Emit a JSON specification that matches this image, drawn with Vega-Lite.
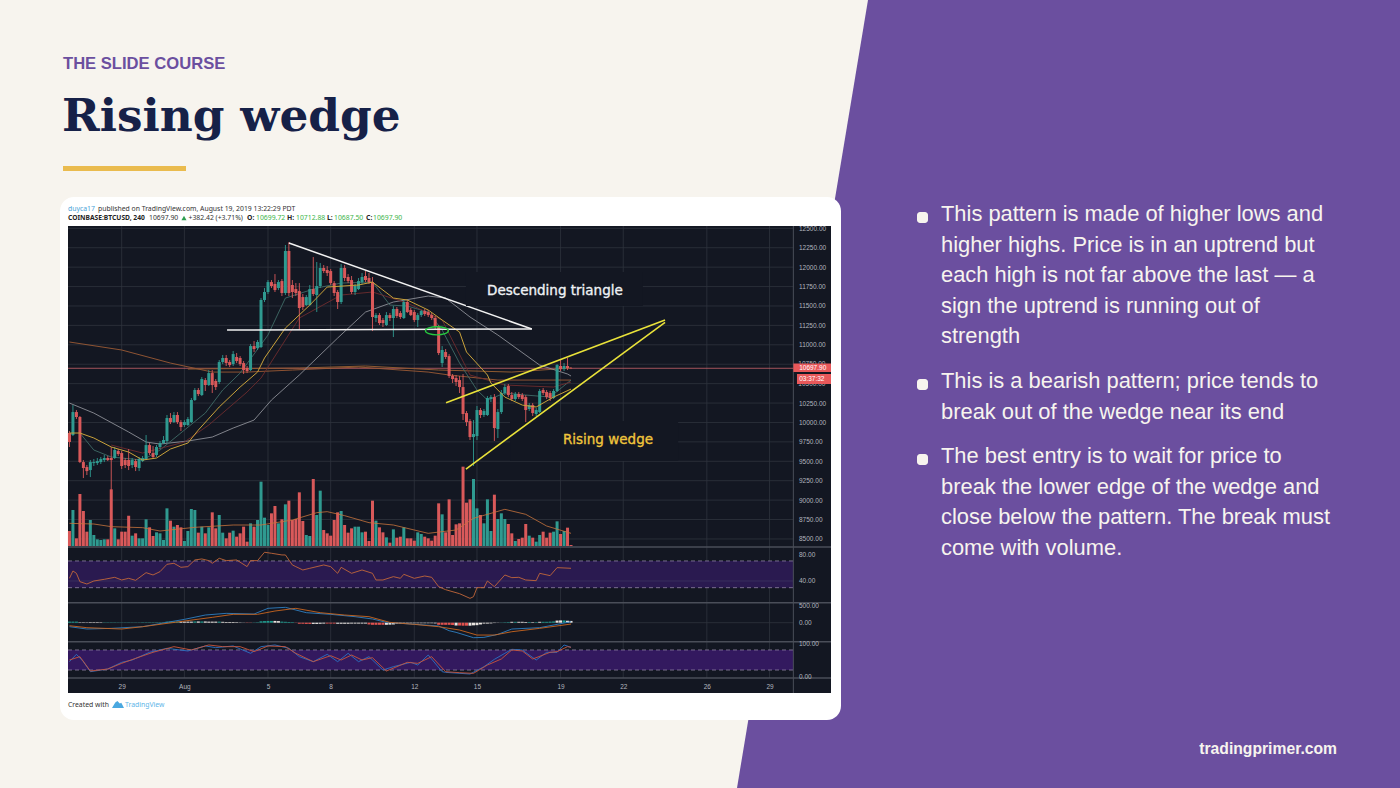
{
"$schema":"https://vega.github.io/schema/vega-lite/v6.json",
"width":1400,"height":788,"padding":0,"autosize":{"type":"none"},
"background":"#f7f4ee",
"config":{"view":{"stroke":null},"axis":{"domain":false,"ticks":false,"grid":false,"title":null,"labelFont":"Liberation Sans","labelFontSize":6.5,"labelColor":"#b2b5be","labelOverlap":false,"labelBound":false,"labelFlush":false}},
"data":{"values":[{}]},
"datasets":{
"candles":[
{"t":"2019-07-26T12:00Z","o":9864,"h":9890,"l":9684,"c":9748,"v":450,"m":30,"f":0},
{"t":"2019-07-26T16:00Z","o":9838,"h":10224,"l":9825,"c":10134,"v":1080,"m":30,"f":0},
{"t":"2019-07-26T20:00Z","o":10134,"h":10160,"l":10044,"c":10070,"v":230,"m":30,"f":0},
{"t":"2019-07-27T00:00Z","o":10070,"h":10083,"l":9477,"c":9490,"v":1560,"m":12,"f":1},
{"t":"2019-07-27T04:00Z","o":9490,"h":9516,"l":9284,"c":9413,"v":1050,"m":12,"f":1},
{"t":"2019-07-27T08:00Z","o":9426,"h":9452,"l":9323,"c":9374,"v":430,"m":10,"f":1},
{"t":"2019-07-27T12:00Z","o":9387,"h":9516,"l":9297,"c":9490,"v":780,"m":15,"f":1},
{"t":"2019-07-27T16:00Z","o":9477,"h":9529,"l":9439,"c":9490,"v":330,"m":15,"f":1},
{"t":"2019-07-27T20:00Z","o":9477,"h":9542,"l":9452,"c":9503,"v":200,"m":15,"f":1},
{"t":"2019-07-28T00:00Z","o":9490,"h":9555,"l":9465,"c":9529,"v":180,"m":12,"f":1},
{"t":"2019-07-28T04:00Z","o":9516,"h":9581,"l":9490,"c":9542,"v":200,"m":8,"f":0},
{"t":"2019-07-28T08:00Z","o":9542,"h":9568,"l":9503,"c":9516,"v":200,"m":8,"f":0},
{"t":"2019-07-28T12:00Z","o":9542,"h":9684,"l":9130,"c":9516,"v":1700,"m":8,"f":0},
{"t":"2019-07-28T16:00Z","o":9542,"h":9684,"l":9529,"c":9645,"v":530,"m":8,"f":0},
{"t":"2019-07-28T20:00Z","o":9632,"h":9658,"l":9568,"c":9593,"v":200,"m":6,"f":0},
{"t":"2019-07-29T00:00Z","o":9606,"h":9632,"l":9400,"c":9439,"v":430,"m":6,"f":0},
{"t":"2019-07-29T04:00Z","o":9516,"h":9542,"l":9413,"c":9452,"v":430,"m":6,"f":0},
{"t":"2019-07-29T08:00Z","o":9516,"h":9658,"l":9387,"c":9439,"v":910,"m":6,"f":0},
{"t":"2019-07-29T12:00Z","o":9452,"h":9542,"l":9413,"c":9516,"v":310,"m":6,"f":0},
{"t":"2019-07-29T16:00Z","o":9503,"h":9529,"l":9374,"c":9426,"v":380,"m":6,"f":0},
{"t":"2019-07-29T20:00Z","o":9413,"h":9555,"l":9374,"c":9529,"v":230,"m":6,"f":0},
{"t":"2019-07-30T00:00Z","o":9503,"h":9568,"l":9490,"c":9542,"v":230,"m":10,"f":0},
{"t":"2019-07-30T04:00Z","o":9529,"h":9838,"l":9516,"c":9709,"v":800,"m":10,"f":0},
{"t":"2019-07-30T08:00Z","o":9709,"h":9735,"l":9581,"c":9606,"v":560,"m":10,"f":0},
{"t":"2019-07-30T12:00Z","o":9606,"h":9696,"l":9529,"c":9555,"v":300,"m":10,"f":0},
{"t":"2019-07-30T16:00Z","o":9581,"h":9709,"l":9555,"c":9684,"v":410,"m":10,"f":0},
{"t":"2019-07-30T20:00Z","o":9684,"h":9761,"l":9658,"c":9735,"v":380,"m":10,"f":0},
{"t":"2019-07-31T00:00Z","o":9735,"h":9825,"l":9722,"c":9774,"v":180,"m":10,"f":0},
{"t":"2019-07-31T04:00Z","o":9761,"h":10096,"l":9735,"c":10057,"v":1130,"m":30,"f":0},
{"t":"2019-07-31T08:00Z","o":10057,"h":10121,"l":9980,"c":10005,"v":760,"m":30,"f":0},
{"t":"2019-07-31T12:00Z","o":10005,"h":10134,"l":9993,"c":10096,"v":580,"m":30,"f":0},
{"t":"2019-07-31T16:00Z","o":10096,"h":10134,"l":9980,"c":10005,"v":630,"m":30,"f":0},
{"t":"2019-07-31T20:00Z","o":10005,"h":10031,"l":9890,"c":9941,"v":560,"m":30,"f":1},
{"t":"2019-08-01T00:00Z","o":9967,"h":10031,"l":9941,"c":10005,"v":150,"m":30,"f":1},
{"t":"2019-08-01T04:00Z","o":9967,"h":10070,"l":9954,"c":10044,"v":450,"m":30,"f":1},
{"t":"2019-08-01T08:00Z","o":10005,"h":10315,"l":9993,"c":10289,"v":1110,"m":30,"f":1},
{"t":"2019-08-01T12:00Z","o":10289,"h":10443,"l":10276,"c":10418,"v":1080,"m":35,"f":0},
{"t":"2019-08-01T16:00Z","o":10418,"h":10443,"l":10340,"c":10366,"v":400,"m":35,"f":1},
{"t":"2019-08-01T20:00Z","o":10353,"h":10585,"l":10340,"c":10559,"v":580,"m":35,"f":0},
{"t":"2019-08-02T00:00Z","o":10546,"h":10572,"l":10405,"c":10482,"v":380,"m":35,"f":1},
{"t":"2019-08-02T04:00Z","o":10482,"h":10675,"l":10469,"c":10636,"v":560,"m":30,"f":1},
{"t":"2019-08-02T08:00Z","o":10636,"h":10675,"l":10379,"c":10482,"v":1010,"m":30,"f":1},
{"t":"2019-08-02T12:00Z","o":10534,"h":10559,"l":10418,"c":10456,"v":530,"m":30,"f":1},
{"t":"2019-08-02T16:00Z","o":10521,"h":10804,"l":10495,"c":10778,"v":930,"m":30,"f":0},
{"t":"2019-08-02T20:00Z","o":10778,"h":10868,"l":10752,"c":10830,"v":400,"m":25,"f":1},
{"t":"2019-08-03T00:00Z","o":10830,"h":10868,"l":10727,"c":10765,"v":230,"m":20,"f":1},
{"t":"2019-08-03T04:00Z","o":10778,"h":10804,"l":10714,"c":10739,"v":400,"m":20,"f":1},
{"t":"2019-08-03T08:00Z","o":10752,"h":10920,"l":10727,"c":10881,"v":460,"m":20,"f":1},
{"t":"2019-08-03T12:00Z","o":10843,"h":10894,"l":10765,"c":10791,"v":280,"m":15,"f":1},
{"t":"2019-08-03T16:00Z","o":10830,"h":10855,"l":10727,"c":10752,"v":380,"m":8,"f":1},
{"t":"2019-08-03T20:00Z","o":10765,"h":10791,"l":10624,"c":10675,"v":580,"m":4,"f":1},
{"t":"2019-08-04T00:00Z","o":10701,"h":10727,"l":10636,"c":10662,"v":130,"m":-8,"f":0},
{"t":"2019-08-04T04:00Z","o":10675,"h":11010,"l":10662,"c":10984,"v":680,"m":-6,"f":0},
{"t":"2019-08-04T08:00Z","o":10984,"h":11048,"l":10907,"c":10946,"v":580,"m":5,"f":0},
{"t":"2019-08-04T12:00Z","o":10958,"h":11061,"l":10933,"c":11036,"v":780,"m":10,"f":0},
{"t":"2019-08-04T16:00Z","o":10971,"h":11602,"l":10958,"c":11577,"v":1930,"m":40,"f":0},
{"t":"2019-08-04T20:00Z","o":11577,"h":11731,"l":11551,"c":11680,"v":850,"m":45,"f":0},
{"t":"2019-08-05T00:00Z","o":11680,"h":11834,"l":11654,"c":11808,"v":630,"m":50,"f":0},
{"t":"2019-08-05T04:00Z","o":11808,"h":11834,"l":11731,"c":11757,"v":980,"m":50,"f":0},
{"t":"2019-08-05T08:00Z","o":11783,"h":11911,"l":11680,"c":11705,"v":1200,"m":50,"f":1},
{"t":"2019-08-05T12:00Z","o":11731,"h":11834,"l":11705,"c":11808,"v":680,"m":45,"f":1},
{"t":"2019-08-05T16:00Z","o":11821,"h":11847,"l":11628,"c":11667,"v":800,"m":30,"f":0},
{"t":"2019-08-05T20:00Z","o":11667,"h":12285,"l":11641,"c":12208,"v":1250,"m":25,"f":0},
{"t":"2019-08-06T00:00Z","o":12208,"h":12323,"l":11628,"c":11667,"v":1360,"m":20,"f":0},
{"t":"2019-08-06T04:00Z","o":11770,"h":11834,"l":11602,"c":11680,"v":780,"m":15,"f":0},
{"t":"2019-08-06T08:00Z","o":11718,"h":11795,"l":11628,"c":11667,"v":810,"m":-5,"f":0},
{"t":"2019-08-06T12:00Z","o":11692,"h":11795,"l":11190,"c":11474,"v":1610,"m":-30,"f":0},
{"t":"2019-08-06T16:00Z","o":11615,"h":11654,"l":11448,"c":11487,"v":750,"m":-30,"f":0},
{"t":"2019-08-06T20:00Z","o":11512,"h":11641,"l":11499,"c":11615,"v":330,"m":-35,"f":0},
{"t":"2019-08-07T00:00Z","o":11512,"h":11770,"l":11499,"c":11718,"v":300,"m":-35,"f":0},
{"t":"2019-08-07T04:00Z","o":11718,"h":12130,"l":11628,"c":11654,"v":2010,"m":-35,"f":1},
{"t":"2019-08-07T08:00Z","o":11641,"h":12066,"l":11422,"c":11757,"v":930,"m":-35,"f":1},
{"t":"2019-08-07T12:00Z","o":11757,"h":12053,"l":11731,"c":11989,"v":1660,"m":-30,"f":1},
{"t":"2019-08-07T16:00Z","o":11989,"h":12027,"l":11924,"c":11950,"v":480,"m":-25,"f":1},
{"t":"2019-08-07T20:00Z","o":11963,"h":12014,"l":11886,"c":11924,"v":380,"m":-25,"f":0},
{"t":"2019-08-08T00:00Z","o":11950,"h":11976,"l":11770,"c":11795,"v":310,"m":-25,"f":0},
{"t":"2019-08-08T04:00Z","o":11795,"h":11821,"l":11628,"c":11667,"v":780,"m":-25,"f":0},
{"t":"2019-08-08T08:00Z","o":11680,"h":11705,"l":11461,"c":11551,"v":1010,"m":-30,"f":1},
{"t":"2019-08-08T12:00Z","o":11551,"h":12040,"l":11525,"c":11989,"v":1050,"m":-30,"f":1},
{"t":"2019-08-08T16:00Z","o":11989,"h":12027,"l":11821,"c":11860,"v":630,"m":-30,"f":1},
{"t":"2019-08-08T20:00Z","o":11873,"h":11911,"l":11795,"c":11821,"v":400,"m":-30,"f":1},
{"t":"2019-08-09T00:00Z","o":11834,"h":11886,"l":11654,"c":11680,"v":530,"m":-25,"f":1},
{"t":"2019-08-09T04:00Z","o":11680,"h":11783,"l":11641,"c":11757,"v":580,"m":-25,"f":1},
{"t":"2019-08-09T08:00Z","o":11718,"h":11860,"l":11705,"c":11821,"v":580,"m":-25,"f":1},
{"t":"2019-08-09T12:00Z","o":11808,"h":11924,"l":11783,"c":11873,"v":410,"m":-25,"f":1},
{"t":"2019-08-09T16:00Z","o":11886,"h":11950,"l":11808,"c":11834,"v":430,"m":-25,"f":1},
{"t":"2019-08-09T20:00Z","o":11860,"h":11924,"l":11783,"c":11808,"v":150,"m":-50,"f":0},
{"t":"2019-08-10T00:00Z","o":11808,"h":11873,"l":11177,"c":11358,"v":1360,"m":-60,"f":0},
{"t":"2019-08-10T04:00Z","o":11345,"h":11409,"l":11293,"c":11383,"v":760,"m":-60,"f":0},
{"t":"2019-08-10T08:00Z","o":11383,"h":11409,"l":11255,"c":11280,"v":560,"m":-60,"f":0},
{"t":"2019-08-10T12:00Z","o":11319,"h":11345,"l":11229,"c":11280,"v":410,"m":-60,"f":0},
{"t":"2019-08-10T16:00Z","o":11255,"h":11422,"l":11242,"c":11383,"v":260,"m":-60,"f":1},
{"t":"2019-08-10T20:00Z","o":11383,"h":11409,"l":11306,"c":11345,"v":100,"m":-55,"f":1},
{"t":"2019-08-11T00:00Z","o":11345,"h":11499,"l":11100,"c":11461,"v":500,"m":-50,"f":1},
{"t":"2019-08-11T04:00Z","o":11461,"h":11487,"l":11345,"c":11371,"v":250,"m":-30,"f":1},
{"t":"2019-08-11T08:00Z","o":11409,"h":11435,"l":11332,"c":11358,"v":280,"m":-30,"f":1},
{"t":"2019-08-11T12:00Z","o":11345,"h":11577,"l":11332,"c":11551,"v":560,"m":-25,"f":1},
{"t":"2019-08-11T16:00Z","o":11551,"h":11577,"l":11409,"c":11422,"v":230,"m":-20,"f":1},
{"t":"2019-08-11T20:00Z","o":11448,"h":11474,"l":11371,"c":11383,"v":230,"m":-15,"f":1},
{"t":"2019-08-12T00:00Z","o":11422,"h":11448,"l":11293,"c":11319,"v":160,"m":-15,"f":1},
{"t":"2019-08-12T04:00Z","o":11319,"h":11409,"l":11229,"c":11383,"v":410,"m":-15,"f":1},
{"t":"2019-08-12T08:00Z","o":11383,"h":11448,"l":11358,"c":11435,"v":360,"m":-15,"f":1},
{"t":"2019-08-12T12:00Z","o":11435,"h":11461,"l":11371,"c":11396,"v":280,"m":-15,"f":1},
{"t":"2019-08-12T16:00Z","o":11422,"h":11448,"l":11358,"c":11383,"v":230,"m":-15,"f":1},
{"t":"2019-08-12T20:00Z","o":11383,"h":11409,"l":11319,"c":11345,"v":160,"m":-15,"f":1},
{"t":"2019-08-13T00:00Z","o":11345,"h":11371,"l":11203,"c":11229,"v":310,"m":-20,"f":1},
{"t":"2019-08-13T04:00Z","o":11229,"h":11255,"l":10868,"c":10894,"v":1280,"m":-60,"f":0},
{"t":"2019-08-13T08:00Z","o":10765,"h":10984,"l":10714,"c":10933,"v":950,"m":-60,"f":0},
{"t":"2019-08-13T12:00Z","o":10907,"h":10946,"l":10817,"c":10843,"v":410,"m":-60,"f":0},
{"t":"2019-08-13T16:00Z","o":10855,"h":10881,"l":10572,"c":10598,"v":1400,"m":-60,"f":0},
{"t":"2019-08-13T20:00Z","o":10598,"h":10624,"l":10508,"c":10559,"v":330,"m":-65,"f":0},
{"t":"2019-08-14T00:00Z","o":10572,"h":10611,"l":10469,"c":10521,"v":650,"m":-80,"f":1},
{"t":"2019-08-14T04:00Z","o":10546,"h":10598,"l":10379,"c":10456,"v":680,"m":-80,"f":0},
{"t":"2019-08-14T08:00Z","o":10456,"h":10624,"l":10031,"c":10109,"v":2380,"m":-85,"f":0},
{"t":"2019-08-14T12:00Z","o":10121,"h":10147,"l":9954,"c":10005,"v":1300,"m":-85,"f":0},
{"t":"2019-08-14T16:00Z","o":10018,"h":10044,"l":9774,"c":9812,"v":1400,"m":-85,"f":1},
{"t":"2019-08-14T20:00Z","o":9812,"h":10031,"l":9439,"c":9851,"v":2010,"m":-75,"f":1},
{"t":"2019-08-15T00:00Z","o":9825,"h":10212,"l":9774,"c":10160,"v":1130,"m":-70,"f":1},
{"t":"2019-08-15T04:00Z","o":10160,"h":10186,"l":10057,"c":10096,"v":930,"m":-50,"f":1},
{"t":"2019-08-15T08:00Z","o":10096,"h":10173,"l":10070,"c":10147,"v":680,"m":-25,"f":1},
{"t":"2019-08-15T12:00Z","o":10096,"h":10340,"l":10083,"c":10315,"v":1400,"m":-25,"f":1},
{"t":"2019-08-15T16:00Z","o":10302,"h":10353,"l":10263,"c":10327,"v":450,"m":-20,"f":1},
{"t":"2019-08-15T20:00Z","o":10327,"h":10366,"l":9761,"c":9928,"v":1540,"m":-10,"f":1},
{"t":"2019-08-16T00:00Z","o":9915,"h":10173,"l":9800,"c":10134,"v":810,"m":-5,"f":1},
{"t":"2019-08-16T04:00Z","o":10134,"h":10418,"l":10109,"c":10379,"v":980,"m":5,"f":0},
{"t":"2019-08-16T08:00Z","o":10379,"h":10495,"l":10353,"c":10456,"v":810,"m":10,"f":0},
{"t":"2019-08-16T12:00Z","o":10469,"h":10495,"l":10327,"c":10353,"v":660,"m":15,"f":0},
{"t":"2019-08-16T16:00Z","o":10353,"h":10392,"l":10276,"c":10302,"v":380,"m":25,"f":1},
{"t":"2019-08-16T20:00Z","o":10302,"h":10392,"l":10276,"c":10366,"v":150,"m":25,"f":0},
{"t":"2019-08-17T00:00Z","o":10366,"h":10392,"l":10302,"c":10327,"v":210,"m":25,"f":1},
{"t":"2019-08-17T04:00Z","o":10353,"h":10379,"l":10276,"c":10302,"v":250,"m":25,"f":1},
{"t":"2019-08-17T08:00Z","o":10327,"h":10353,"l":10005,"c":10160,"v":660,"m":20,"f":1},
{"t":"2019-08-17T12:00Z","o":10173,"h":10250,"l":10147,"c":10224,"v":310,"m":20,"f":0},
{"t":"2019-08-17T16:00Z","o":10224,"h":10250,"l":10083,"c":10121,"v":250,"m":15,"f":1},
{"t":"2019-08-17T20:00Z","o":10109,"h":10186,"l":10083,"c":10160,"v":130,"m":15,"f":0},
{"t":"2019-08-18T00:00Z","o":10134,"h":10430,"l":10121,"c":10405,"v":330,"m":25,"f":1},
{"t":"2019-08-18T04:00Z","o":10418,"h":10443,"l":10353,"c":10379,"v":430,"m":25,"f":0},
{"t":"2019-08-18T08:00Z","o":10392,"h":10418,"l":10302,"c":10327,"v":250,"m":25,"f":0},
{"t":"2019-08-18T12:00Z","o":10379,"h":10405,"l":10276,"c":10315,"v":400,"m":30,"f":0},
{"t":"2019-08-18T16:00Z","o":10315,"h":10430,"l":10302,"c":10405,"v":430,"m":35,"f":0},
{"t":"2019-08-18T20:00Z","o":10405,"h":10752,"l":10392,"c":10739,"v":740,"m":60,"f":1},
{"t":"2019-08-19T00:00Z","o":10727,"h":10804,"l":10662,"c":10688,"v":360,"m":65,"f":1},
{"t":"2019-08-19T04:00Z","o":10688,"h":10765,"l":10662,"c":10727,"v":450,"m":65,"f":0},
{"t":"2019-08-19T08:00Z","o":10727,"h":10830,"l":10675,"c":10701,"v":550,"m":55,"f":1},
{"t":"2019-08-19T12:00Z","o":10699.72,"h":10712.88,"l":10687.5,"c":10697.9,"v":30,"m":50,"f":1}
],
"maOrange":[{"t":"2019-07-26T12:00Z","p":9864},{"t":"2019-07-27T00:00Z","p":9864},{"t":"2019-07-27T16:00Z","p":9800},{"t":"2019-07-28T12:00Z","p":9684},{"t":"2019-07-29T08:00Z","p":9619},{"t":"2019-07-30T00:00Z","p":9516},{"t":"2019-07-30T16:00Z","p":9542},{"t":"2019-07-31T08:00Z","p":9658},{"t":"2019-08-01T04:00Z","p":9735},{"t":"2019-08-01T16:00Z","p":9902},{"t":"2019-08-02T16:00Z","p":10199},{"t":"2019-08-03T16:00Z","p":10456},{"t":"2019-08-04T12:00Z","p":10649},{"t":"2019-08-04T20:00Z","p":10830},{"t":"2019-08-05T20:00Z","p":11216},{"t":"2019-08-07T00:00Z","p":11512},{"t":"2019-08-07T20:00Z","p":11744},{"t":"2019-08-09T08:00Z","p":11770},{"t":"2019-08-10T00:00Z","p":11808},{"t":"2019-08-11T00:00Z","p":11602},{"t":"2019-08-11T16:00Z","p":11577},{"t":"2019-08-12T16:00Z","p":11448},{"t":"2019-08-13T08:00Z","p":11319},{"t":"2019-08-14T04:00Z","p":11164},{"t":"2019-08-14T12:00Z","p":10907},{"t":"2019-08-15T12:00Z","p":10611},{"t":"2019-08-15T16:00Z","p":10508},{"t":"2019-08-16T08:00Z","p":10327},{"t":"2019-08-17T04:00Z","p":10224},{"t":"2019-08-17T20:00Z","p":10199},{"t":"2019-08-18T16:00Z","p":10327},{"t":"2019-08-19T12:00Z","p":10430}],
"maGrey":[{"t":"2019-07-26T12:00Z","p":10250},{"t":"2019-07-27T16:00Z","p":10121},{"t":"2019-07-29T08:00Z","p":9877},{"t":"2019-07-30T04:00Z","p":9748},{"t":"2019-07-30T20:00Z","p":9722},{"t":"2019-08-01T04:00Z","p":9761},{"t":"2019-08-02T08:00Z","p":9812},{"t":"2019-08-03T08:00Z","p":9928},{"t":"2019-08-04T08:00Z","p":10031},{"t":"2019-08-05T04:00Z","p":10289},{"t":"2019-08-06T12:00Z","p":10611},{"t":"2019-08-08T08:00Z","p":11087},{"t":"2019-08-09T16:00Z","p":11422},{"t":"2019-08-11T00:00Z","p":11551},{"t":"2019-08-12T16:00Z","p":11628},{"t":"2019-08-13T12:00Z","p":11602},{"t":"2019-08-14T16:00Z","p":11358},{"t":"2019-08-16T00:00Z","p":11126},{"t":"2019-08-18T00:00Z","p":10739},{"t":"2019-08-19T08:00Z","p":10624},{"t":"2019-08-19T12:00Z","p":10598}],
"maTeal":[{"t":"2019-07-27T00:00Z","p":9864},{"t":"2019-07-27T16:00Z","p":9645},{"t":"2019-07-28T12:00Z","p":9555},{"t":"2019-07-30T00:00Z","p":9516},{"t":"2019-07-30T20:00Z","p":9645},{"t":"2019-08-01T00:00Z","p":9902},{"t":"2019-08-02T00:00Z","p":10121},{"t":"2019-08-02T20:00Z","p":10418},{"t":"2019-08-03T16:00Z","p":10636},{"t":"2019-08-05T00:00Z","p":11126},{"t":"2019-08-05T20:00Z","p":11602},{"t":"2019-08-07T08:00Z","p":11731},{"t":"2019-08-08T12:00Z","p":11795},{"t":"2019-08-10T00:00Z","p":11808},{"t":"2019-08-10T20:00Z","p":11512},{"t":"2019-08-11T16:00Z","p":11499},{"t":"2019-08-12T16:00Z","p":11422},{"t":"2019-08-13T08:00Z","p":11190},{"t":"2019-08-14T04:00Z","p":10765},{"t":"2019-08-15T00:00Z","p":10418},{"t":"2019-08-15T12:00Z","p":10289},{"t":"2019-08-16T08:00Z","p":10379},{"t":"2019-08-17T08:00Z","p":10353},{"t":"2019-08-18T12:00Z","p":10327},{"t":"2019-08-19T12:00Z","p":10546}],
"maRed":[{"t":"2019-07-28T12:00Z","p":9709},{"t":"2019-07-30T00:00Z","p":9606},{"t":"2019-08-01T00:00Z","p":9748},{"t":"2019-08-02T04:00Z","p":9967},{"t":"2019-08-04T00:00Z","p":10392},{"t":"2019-08-04T16:00Z","p":10572},{"t":"2019-08-06T12:00Z","p":11345},{"t":"2019-08-08T12:00Z","p":11641},{"t":"2019-08-10T00:00Z","p":11680},{"t":"2019-08-11T16:00Z","p":11538},{"t":"2019-08-13T08:00Z","p":11319},{"t":"2019-08-14T16:00Z","p":10611},{"t":"2019-08-16T08:00Z","p":10482},{"t":"2019-08-18T16:00Z","p":10456},{"t":"2019-08-19T12:00Z","p":10521}],
"maBrown":[{"t":"2019-07-26T12:00Z","p":11036},{"t":"2019-07-29T00:00Z","p":10933},{"t":"2019-07-31T08:00Z","p":10765},{"t":"2019-08-02T08:00Z","p":10649},{"t":"2019-08-04T00:00Z","p":10649},{"t":"2019-08-06T04:00Z","p":10675},{"t":"2019-08-09T08:00Z","p":10714},{"t":"2019-08-12T16:00Z","p":10649},{"t":"2019-08-13T16:00Z","p":10611},{"t":"2019-08-16T00:00Z","p":10546},{"t":"2019-08-19T12:00Z","p":10546}],
"maFlat":[{"t":"2019-08-01T04:00Z","p":10688},{"t":"2019-08-06T12:00Z","p":10701},{"t":"2019-08-09T16:00Z","p":10727},{"t":"2019-08-13T04:00Z","p":10675},{"t":"2019-08-16T16:00Z","p":10649},{"t":"2019-08-19T12:00Z","p":10701}],
"volMa":[{"t":"2019-07-26T12:00Z","v":680},{"t":"2019-07-27T16:00Z","v":660},{"t":"2019-07-28T12:00Z","v":580},{"t":"2019-07-30T00:00Z","v":550},{"t":"2019-07-30T20:00Z","v":450},{"t":"2019-08-01T12:00Z","v":560},{"t":"2019-08-03T08:00Z","v":630},{"t":"2019-08-04T16:00Z","v":630},{"t":"2019-08-06T04:00Z","v":780},{"t":"2019-08-07T08:00Z","v":1000},{"t":"2019-08-07T20:00Z","v":1030},{"t":"2019-08-08T16:00Z","v":910},{"t":"2019-08-09T20:00Z","v":700},{"t":"2019-08-11T00:00Z","v":630},{"t":"2019-08-12T16:00Z","v":380},{"t":"2019-08-14T00:00Z","v":480},{"t":"2019-08-14T20:00Z","v":830},{"t":"2019-08-16T08:00Z","v":1100},{"t":"2019-08-17T08:00Z","v":950},{"t":"2019-08-18T08:00Z","v":600},{"t":"2019-08-19T12:00Z","v":380}],
"rsi":[{"t":"2019-07-26T12:00Z","v":44},{"t":"2019-07-26T16:00Z","v":55},{"t":"2019-07-26T20:00Z","v":51.5},{"t":"2019-07-27T00:00Z","v":39},{"t":"2019-07-27T08:00Z","v":35.5},{"t":"2019-07-27T16:00Z","v":40},{"t":"2019-07-28T04:00Z","v":42.5},{"t":"2019-07-28T16:00Z","v":45.5},{"t":"2019-07-29T00:00Z","v":41.5},{"t":"2019-07-29T08:00Z","v":44},{"t":"2019-07-29T16:00Z","v":41},{"t":"2019-07-30T04:00Z","v":52.5},{"t":"2019-07-30T12:00Z","v":49},{"t":"2019-07-30T20:00Z","v":54},{"t":"2019-07-31T04:00Z","v":65},{"t":"2019-07-31T12:00Z","v":66.5},{"t":"2019-07-31T20:00Z","v":60.5},{"t":"2019-08-01T04:00Z","v":61.5},{"t":"2019-08-01T12:00Z","v":71.5},{"t":"2019-08-01T20:00Z","v":73},{"t":"2019-08-02T04:00Z","v":70.5},{"t":"2019-08-02T08:00Z","v":66.5},{"t":"2019-08-02T16:00Z","v":74},{"t":"2019-08-03T00:00Z","v":70.5},{"t":"2019-08-03T12:00Z","v":71.5},{"t":"2019-08-04T00:00Z","v":61.5},{"t":"2019-08-04T04:00Z","v":70.5},{"t":"2019-08-04T12:00Z","v":70.5},{"t":"2019-08-04T20:00Z","v":83},{"t":"2019-08-05T04:00Z","v":81.5},{"t":"2019-08-05T16:00Z","v":79},{"t":"2019-08-05T20:00Z","v":79},{"t":"2019-08-06T04:00Z","v":64},{"t":"2019-08-06T08:00Z","v":61.5},{"t":"2019-08-06T16:00Z","v":56.5},{"t":"2019-08-07T00:00Z","v":59},{"t":"2019-08-07T16:00Z","v":64},{"t":"2019-08-08T00:00Z","v":61.5},{"t":"2019-08-08T08:00Z","v":51.5},{"t":"2019-08-08T12:00Z","v":60.5},{"t":"2019-08-09T00:00Z","v":51.5},{"t":"2019-08-09T12:00Z","v":56.5},{"t":"2019-08-10T00:00Z","v":51.5},{"t":"2019-08-10T04:00Z","v":41.5},{"t":"2019-08-10T12:00Z","v":41.5},{"t":"2019-08-11T00:00Z","v":46.5},{"t":"2019-08-11T08:00Z","v":44},{"t":"2019-08-11T12:00Z","v":50},{"t":"2019-08-12T00:00Z","v":44},{"t":"2019-08-12T12:00Z","v":47.5},{"t":"2019-08-12T20:00Z","v":45.5},{"t":"2019-08-13T04:00Z","v":31.5},{"t":"2019-08-13T12:00Z","v":27},{"t":"2019-08-14T04:00Z","v":21},{"t":"2019-08-14T16:00Z","v":14},{"t":"2019-08-14T20:00Z","v":16.5},{"t":"2019-08-15T00:00Z","v":30},{"t":"2019-08-15T08:00Z","v":30},{"t":"2019-08-15T12:00Z","v":40},{"t":"2019-08-15T20:00Z","v":31.5},{"t":"2019-08-16T08:00Z","v":49},{"t":"2019-08-16T16:00Z","v":45},{"t":"2019-08-17T00:00Z","v":45.5},{"t":"2019-08-17T08:00Z","v":41.5},{"t":"2019-08-17T20:00Z","v":40.5},{"t":"2019-08-18T00:00Z","v":51.5},{"t":"2019-08-18T12:00Z","v":48},{"t":"2019-08-18T20:00Z","v":60},{"t":"2019-08-19T12:00Z","v":59}],
"macd":[{"t":"2019-07-26T12:00Z","v":-113},{"t":"2019-07-27T08:00Z","v":-179},{"t":"2019-07-28T12:00Z","v":-160},{"t":"2019-07-30T00:00Z","v":-113},{"t":"2019-07-31T04:00Z","v":9},{"t":"2019-08-01T00:00Z","v":94},{"t":"2019-08-02T00:00Z","v":217},{"t":"2019-08-03T00:00Z","v":264},{"t":"2019-08-04T08:00Z","v":245},{"t":"2019-08-05T00:00Z","v":406},{"t":"2019-08-05T20:00Z","v":434},{"t":"2019-08-06T20:00Z","v":283},{"t":"2019-08-08T00:00Z","v":236},{"t":"2019-08-09T04:00Z","v":170},{"t":"2019-08-10T00:00Z","v":104},{"t":"2019-08-10T16:00Z","v":9},{"t":"2019-08-11T20:00Z","v":-38},{"t":"2019-08-13T04:00Z","v":-94},{"t":"2019-08-13T16:00Z","v":-226},{"t":"2019-08-14T00:00Z","v":-273},{"t":"2019-08-14T20:00Z","v":-424},{"t":"2019-08-15T08:00Z","v":-415},{"t":"2019-08-16T00:00Z","v":-330},{"t":"2019-08-16T16:00Z","v":-179},{"t":"2019-08-18T00:00Z","v":-141},{"t":"2019-08-18T20:00Z","v":-47},{"t":"2019-08-19T12:00Z","v":28}],
"signal":[{"t":"2019-07-26T12:00Z","v":-85},{"t":"2019-07-27T08:00Z","v":-141},{"t":"2019-07-29T00:00Z","v":-179},{"t":"2019-07-30T00:00Z","v":-113},{"t":"2019-07-31T04:00Z","v":-19},{"t":"2019-08-01T00:00Z","v":47},{"t":"2019-08-02T08:00Z","v":151},{"t":"2019-08-03T08:00Z","v":236},{"t":"2019-08-04T12:00Z","v":236},{"t":"2019-08-05T08:00Z","v":330},{"t":"2019-08-06T08:00Z","v":406},{"t":"2019-08-07T12:00Z","v":283},{"t":"2019-08-08T16:00Z","v":217},{"t":"2019-08-09T20:00Z","v":170},{"t":"2019-08-10T20:00Z","v":9},{"t":"2019-08-12T00:00Z","v":-47},{"t":"2019-08-13T04:00Z","v":-113},{"t":"2019-08-14T04:00Z","v":-207},{"t":"2019-08-15T00:00Z","v":-349},{"t":"2019-08-15T20:00Z","v":-349},{"t":"2019-08-16T16:00Z","v":-255},{"t":"2019-08-18T00:00Z","v":-160},{"t":"2019-08-19T12:00Z","v":-38}],
"stochK":[{"t":"2019-07-26T12:00Z","v":45},{"t":"2019-07-26T20:00Z","v":67},{"t":"2019-07-27T04:00Z","v":45},{"t":"2019-07-27T12:00Z","v":15},{"t":"2019-07-28T08:00Z","v":23},{"t":"2019-07-29T00:00Z","v":43},{"t":"2019-07-29T12:00Z","v":50},{"t":"2019-07-30T08:00Z","v":73},{"t":"2019-07-31T04:00Z","v":85},{"t":"2019-08-01T04:00Z","v":77},{"t":"2019-08-02T00:00Z","v":92},{"t":"2019-08-02T12:00Z","v":87},{"t":"2019-08-03T08:00Z","v":92},{"t":"2019-08-04T04:00Z","v":70},{"t":"2019-08-04T16:00Z","v":90},{"t":"2019-08-05T08:00Z","v":95},{"t":"2019-08-06T00:00Z","v":85},{"t":"2019-08-06T12:00Z","v":60},{"t":"2019-08-07T04:00Z","v":45},{"t":"2019-08-07T20:00Z","v":67},{"t":"2019-08-08T08:00Z","v":45},{"t":"2019-08-08T20:00Z","v":70},{"t":"2019-08-09T08:00Z","v":45},{"t":"2019-08-09T20:00Z","v":60},{"t":"2019-08-10T12:00Z","v":20},{"t":"2019-08-11T00:00Z","v":30},{"t":"2019-08-11T20:00Z","v":43},{"t":"2019-08-12T04:00Z","v":35},{"t":"2019-08-12T16:00Z","v":65},{"t":"2019-08-13T08:00Z","v":15},{"t":"2019-08-13T12:00Z","v":13},{"t":"2019-08-14T16:00Z","v":8},{"t":"2019-08-15T08:00Z","v":30},{"t":"2019-08-15T20:00Z","v":52},{"t":"2019-08-16T08:00Z","v":70},{"t":"2019-08-16T16:00Z","v":82},{"t":"2019-08-17T04:00Z","v":80},{"t":"2019-08-17T20:00Z","v":50},{"t":"2019-08-18T08:00Z","v":73},{"t":"2019-08-18T20:00Z","v":73},{"t":"2019-08-19T04:00Z","v":95},{"t":"2019-08-19T12:00Z","v":88}],
"stochD":[{"t":"2019-07-26T12:00Z","v":50},{"t":"2019-07-27T00:00Z","v":60},{"t":"2019-07-27T12:00Z","v":17},{"t":"2019-07-28T08:00Z","v":23},{"t":"2019-07-29T00:00Z","v":40},{"t":"2019-07-29T16:00Z","v":55},{"t":"2019-07-30T12:00Z","v":73},{"t":"2019-07-31T12:00Z","v":90},{"t":"2019-08-01T08:00Z","v":80},{"t":"2019-08-02T04:00Z","v":95},{"t":"2019-08-02T20:00Z","v":90},{"t":"2019-08-03T16:00Z","v":90},{"t":"2019-08-04T08:00Z","v":75},{"t":"2019-08-05T00:00Z","v":92},{"t":"2019-08-05T20:00Z","v":90},{"t":"2019-08-06T08:00Z","v":70},{"t":"2019-08-07T04:00Z","v":45},{"t":"2019-08-08T00:00Z","v":63},{"t":"2019-08-08T12:00Z","v":50},{"t":"2019-08-09T00:00Z","v":65},{"t":"2019-08-09T12:00Z","v":50},{"t":"2019-08-10T00:00Z","v":57},{"t":"2019-08-10T16:00Z","v":17},{"t":"2019-08-11T16:00Z","v":43},{"t":"2019-08-12T04:00Z","v":40},{"t":"2019-08-12T20:00Z","v":60},{"t":"2019-08-13T12:00Z","v":15},{"t":"2019-08-14T04:00Z","v":12},{"t":"2019-08-14T20:00Z","v":10},{"t":"2019-08-15T12:00Z","v":35},{"t":"2019-08-16T04:00Z","v":53},{"t":"2019-08-16T16:00Z","v":80},{"t":"2019-08-17T04:00Z","v":77},{"t":"2019-08-17T16:00Z","v":53},{"t":"2019-08-18T12:00Z","v":73},{"t":"2019-08-18T20:00Z","v":75},{"t":"2019-08-19T08:00Z","v":90},{"t":"2019-08-19T12:00Z","v":88}],
"descending":[{"t":"2019-08-06T00:00Z","p":12311},{"t":"2019-08-17T15:00Z","p":11203}],
"support":[{"t":"2019-08-03T01:00Z","p":11190},{"t":"2019-08-17T15:00Z","p":11203}],
"wedgeUpper":[{"t":"2019-08-13T12:30Z","p":10254},{"t":"2019-08-24T00:00Z","p":11319}],
"wedgeLower":[{"t":"2019-08-14T11:20Z","p":9400},{"t":"2019-08-24T00:00Z","p":11289}],
"xTicks":[{"t":"2019-07-29T00:00Z","p":12530},{"t":"2019-08-01T00:00Z","p":12530},{"t":"2019-08-05T00:00Z","p":12530},{"t":"2019-08-08T00:00Z","p":12530},{"t":"2019-08-12T00:00Z","p":12530},{"t":"2019-08-15T00:00Z","p":12530},{"t":"2019-08-19T00:00Z","p":12530},{"t":"2019-08-22T00:00Z","p":12530},{"t":"2019-08-26T00:00Z","p":12530},{"t":"2019-08-29T00:00Z","p":12530}],
"priceTicks":[{"t":"2019-07-26T10:20Z","p":8500},{"t":"2019-07-26T10:20Z","p":8750},{"t":"2019-07-26T10:20Z","p":9000},{"t":"2019-07-26T10:20Z","p":9250},{"t":"2019-07-26T10:20Z","p":9500},{"t":"2019-07-26T10:20Z","p":9750},{"t":"2019-07-26T10:20Z","p":10000},{"t":"2019-07-26T10:20Z","p":10250},{"t":"2019-07-26T10:20Z","p":10500},{"t":"2019-07-26T10:20Z","p":10750},{"t":"2019-07-26T10:20Z","p":11000},{"t":"2019-07-26T10:20Z","p":11250},{"t":"2019-07-26T10:20Z","p":11500},{"t":"2019-07-26T10:20Z","p":11750},{"t":"2019-07-26T10:20Z","p":12000},{"t":"2019-07-26T10:20Z","p":12250},{"t":"2019-07-26T10:20Z","p":12500}]
},
"resolve":{"scale":{"x":"independent","y":"independent"},"axis":{"x":"independent","y":"independent"}},
"layer":[
{"layer":[
{"data":{"values":[{"e":868,"h":0},{"e":737,"h":788}]},"mark":{"type":"area","orient":"horizontal","color":"#6b4f9f"},"encoding":{"x":{"field":"e","type":"quantitative","scale":{"domain":[0,1400],"range":[0,1400],"nice":false},"axis":null},"x2":{"datum":1400},"y":{"field":"h","type":"quantitative","scale":{"domain":[0,788],"range":[0,788],"nice":false},"axis":null}}},
{"mark":{"type":"rect","color":"#ffffff","cornerRadius":14},"encoding":{"x":{"datum":60,"axis":null},"x2":{"datum":841},"y":{"datum":197,"axis":null},"y2":{"datum":720}}},
{"mark":{"type":"rect","color":"#eabb4e"},"encoding":{"x":{"datum":63,"axis":null},"x2":{"datum":186},"y":{"datum":166,"axis":null},"y2":{"datum":171}}},
{"mark":{"type":"text","text":"THE SLIDE COURSE","font":"Liberation Sans","fontWeight":"bold","fontSize":16.6,"color":"#6b4f9f","align":"left","baseline":"alphabetic"},"encoding":{"x":{"datum":63,"axis":null},"y":{"datum":69,"axis":null}}},
{"mark":{"type":"text","text":"Rising wedge","font":"DejaVu Serif","fontWeight":"bold","fontSize":45.4,"color":"#162148","align":"left","baseline":"alphabetic"},"encoding":{"x":{"datum":62,"axis":null},"y":{"datum":131,"axis":null}}},
{"mark":{"type":"rect","color":"#f7f4ee","cornerRadius":3},"encoding":{"x":{"datum":917,"axis":null},"x2":{"datum":928},"y":{"datum":212,"axis":null},"y2":{"datum":223}}},
{"mark":{"type":"rect","color":"#f7f4ee","cornerRadius":3},"encoding":{"x":{"datum":917,"axis":null},"x2":{"datum":928},"y":{"datum":379,"axis":null},"y2":{"datum":390}}},
{"mark":{"type":"rect","color":"#f7f4ee","cornerRadius":3},"encoding":{"x":{"datum":917,"axis":null},"x2":{"datum":928},"y":{"datum":454,"axis":null},"y2":{"datum":465}}},
{"mark":{"type":"text","text":["This pattern is made of higher lows and","higher highs. Price is in an uptrend but","each high is not far above the last — a","sign the uptrend is running out of","strength"],"lineHeight":30.6,"font":"Liberation Sans","fontSize":21.9,"color":"#f7f4ee","align":"left","baseline":"alphabetic"},"encoding":{"x":{"datum":941,"axis":null},"y":{"datum":221,"axis":null}}},
{"mark":{"type":"text","text":["This is a bearish pattern; price tends to","break out of the wedge near its end"],"lineHeight":30.6,"font":"Liberation Sans","fontSize":21.9,"color":"#f7f4ee","align":"left","baseline":"alphabetic"},"encoding":{"x":{"datum":941,"axis":null},"y":{"datum":388,"axis":null}}},
{"mark":{"type":"text","text":["The best entry is to wait for price to","break the lower edge of the wedge and","close below the pattern. The break must","come with volume."],"lineHeight":30.6,"font":"Liberation Sans","fontSize":21.9,"color":"#f7f4ee","align":"left","baseline":"alphabetic"},"encoding":{"x":{"datum":941,"axis":null},"y":{"datum":463,"axis":null}}},
{"mark":{"type":"text","text":"tradingprimer.com","font":"Liberation Sans","fontWeight":"bold","fontSize":15.7,"color":"#f7f4ee","align":"right","baseline":"alphabetic"},"encoding":{"x":{"datum":1337,"axis":null},"y":{"datum":754,"axis":null}}},
{"mark":{"type":"text","text":"duyca17","font":"Noto Sans","fontSize":6.85,"color":"#4aa3d8","align":"left","baseline":"middle"},"encoding":{"x":{"datum":68,"axis":null},"y":{"datum":208.5,"axis":null}}},
{"mark":{"type":"text","text":"published on TradingView.com, August 19, 2019 13:22:29 PDT","font":"Noto Sans","fontSize":6.85,"color":"#333333","align":"left","baseline":"middle"},"encoding":{"x":{"datum":98,"axis":null},"y":{"datum":208.5,"axis":null}}},
{"mark":{"type":"text","text":"COINBASE:BTCUSD, 240","font":"Noto Sans","fontWeight":"bold","fontSize":6.7,"color":"#222222","align":"left","baseline":"middle"},"encoding":{"x":{"datum":68,"axis":null},"y":{"datum":218,"axis":null}}},
{"mark":{"type":"text","text":"10697.90","font":"Noto Sans","fontSize":6.85,"color":"#333333","align":"left","baseline":"middle"},"encoding":{"x":{"datum":149,"axis":null},"y":{"datum":218,"axis":null}}},
{"mark":{"type":"point","shape":"triangle-up","filled":true,"size":26,"color":"#2e9e4f","opacity":1},"encoding":{"x":{"datum":184,"axis":null},"y":{"datum":218,"axis":null}}},
{"mark":{"type":"text","text":"+382.42 (+3.71%)","font":"Noto Sans","fontSize":6.85,"color":"#333333","align":"left","baseline":"middle"},"encoding":{"x":{"datum":188.5,"axis":null},"y":{"datum":218,"axis":null}}},
{"mark":{"type":"text","text":"O:","font":"Noto Sans","fontWeight":"bold","fontSize":6.85,"color":"#222222","align":"left","baseline":"middle"},"encoding":{"x":{"datum":247,"axis":null},"y":{"datum":218,"axis":null}}},
{"mark":{"type":"text","text":"10699.72","font":"Noto Sans","fontSize":6.85,"color":"#3cb54a","align":"left","baseline":"middle"},"encoding":{"x":{"datum":256,"axis":null},"y":{"datum":218,"axis":null}}},
{"mark":{"type":"text","text":"H:","font":"Noto Sans","fontWeight":"bold","fontSize":6.85,"color":"#222222","align":"left","baseline":"middle"},"encoding":{"x":{"datum":287,"axis":null},"y":{"datum":218,"axis":null}}},
{"mark":{"type":"text","text":"10712.88","font":"Noto Sans","fontSize":6.85,"color":"#3cb54a","align":"left","baseline":"middle"},"encoding":{"x":{"datum":296,"axis":null},"y":{"datum":218,"axis":null}}},
{"mark":{"type":"text","text":"L:","font":"Noto Sans","fontWeight":"bold","fontSize":6.85,"color":"#222222","align":"left","baseline":"middle"},"encoding":{"x":{"datum":327,"axis":null},"y":{"datum":218,"axis":null}}},
{"mark":{"type":"text","text":"10687.50","font":"Noto Sans","fontSize":6.85,"color":"#3cb54a","align":"left","baseline":"middle"},"encoding":{"x":{"datum":334,"axis":null},"y":{"datum":218,"axis":null}}},
{"mark":{"type":"text","text":"C:","font":"Noto Sans","fontWeight":"bold","fontSize":6.85,"color":"#222222","align":"left","baseline":"middle"},"encoding":{"x":{"datum":366,"axis":null},"y":{"datum":218,"axis":null}}},
{"mark":{"type":"text","text":"10697.90","font":"Noto Sans","fontSize":6.85,"color":"#3cb54a","align":"left","baseline":"middle"},"encoding":{"x":{"datum":373,"axis":null},"y":{"datum":218,"axis":null}}},
{"mark":{"type":"text","text":"Created with","font":"Noto Sans","fontSize":6.85,"color":"#333333","align":"left","baseline":"middle"},"encoding":{"x":{"datum":68,"axis":null},"y":{"datum":704.5,"axis":null}}},
{"mark":{"type":"point","shape":"M-1 0.6 L-0.45 -0.35 L-0.1 -0.6 L0.3 -0.15 L0.55 -0.3 L1 0.6 Z","filled":true,"size":144,"color":"#4aa8e0","opacity":1},"encoding":{"x":{"datum":118,"axis":null},"y":{"datum":704.5,"axis":null}}},
{"mark":{"type":"text","text":"TradingView","font":"Noto Sans","fontSize":6.85,"color":"#5eb5e8","align":"left","baseline":"middle"},"encoding":{"x":{"datum":125,"axis":null},"y":{"datum":704.5,"axis":null}}}
]},
{
"resolve":{"scale":{"y":"independent"},"axis":{"x":"independent","y":"independent"}},
"encoding":{"x":{"field":"t","type":"temporal","scale":{"type":"utc","domain":[1564136400000,1567290840000],"range":[68,831],"padding":0},"axis":null}},
"layer":[
{"resolve":{"axis":{"x":"independent","y":"independent"}},
"encoding":{"y":{"field":"p","type":"quantitative","scale":{"domain":[6516,12530],"range":[693,226],"nice":false},"axis":null}},
"layer":[
{"data":{"values":[{"t":"2019-07-26T10:20Z","p":12530}]},"mark":{"type":"rect","color":"#131722"},"encoding":{"x2":{"datum":1567290840000},"y2":{"datum":6516}}},
{"data":{"name":"priceTicks"},"mark":{"type":"rule","color":"#2f333e","strokeWidth":0.8},"encoding":{"x2":{"datum":1567135200000}}},
{"data":{"name":"xTicks"},"mark":{"type":"rule","color":"#2f333e","strokeWidth":0.8},"encoding":{"y2":{"datum":6709}}},
{"data":{"values":[{"t":"2019-08-16T14:00Z","p":10018}]},"mark":{"type":"rect","color":"#131722"},"encoding":{"x2":{"datum":1566658800000},"y2":{"datum":9503}}}
]},
{"resolve":{"axis":{"x":"independent","y":"independent"}},
"encoding":{"y":{"field":"v","type":"quantitative","scale":{"domain":[0,3000],"range":[546,446],"nice":false},"axis":null}},
"layer":[
{"data":{"name":"candles"},"mark":{"type":"bar","size":3},"encoding":{"color":{"condition":{"test":"datum.c>=datum.o","value":"#2f9a90"},"value":"#d9595a"}}},
{"data":{"name":"volMa"},"mark":{"type":"line","color":"#c8743c","strokeWidth":0.8}}
]},
{"resolve":{"axis":{"x":"independent","y":"independent"}},
"encoding":{"y":{"field":"v","type":"quantitative","scale":{"domain":[7.5,90.9],"range":[602.7,547],"nice":false},"axis":null}},
"layer":[
{"data":{"values":[{"t":"2019-07-26T10:20Z","v":70}]},"mark":{"type":"rect","color":"#2a1a50"},"encoding":{"x2":{"datum":1567135200000},"y2":{"datum":30}}},
{"data":{"values":[{"t":"2019-07-26T10:20Z","v":30},{"t":"2019-07-26T10:20Z","v":70}]},"mark":{"type":"rule","color":"#8f84a3","strokeWidth":0.8,"strokeDash":[4,3]},"encoding":{"x2":{"datum":1567135200000}}},
{"data":{"values":[{"t":"2019-07-26T10:20Z","v":40}]},"mark":{"type":"rule","color":"#3d3560","strokeWidth":0.8},"encoding":{"x2":{"datum":1567135200000}}},
{"data":{"name":"rsi"},"mark":{"type":"line","color":"#c2673a","strokeWidth":0.9},"encoding":{"y":{"field":"v","type":"quantitative","scale":{"domain":[7.5,90.9],"range":[602.7,547],"nice":false},"axis":{"orient":"right","offset":-606.5,"zindex":1,"values":[40,80],"format":".2f","labelPadding":5}}}}
]},
{"resolve":{"axis":{"x":"independent","y":"independent"}},
"encoding":{"y":{"field":"v","type":"quantitative","scale":{"domain":[-537,565],"range":[641.7,602.7],"nice":false},"axis":null}},
"layer":[
{"data":{"values":[{"t":"2019-07-26T10:20Z","v":0}]},"mark":{"type":"rule","color":"#2f333e","strokeWidth":0.8},"encoding":{"x2":{"datum":1567135200000}}},
{"data":{"name":"candles"},"mark":{"type":"bar","size":3},"encoding":{"y":{"field":"m","type":"quantitative","scale":{"domain":[-537,565],"range":[641.7,602.7],"nice":false},"axis":null},"y2":{"datum":0},"color":{"condition":[{"test":"datum.f==1","value":"#e8e4e0"},{"test":"datum.m>=0","value":"#1f9b8e"}],"value":"#e0524f"}}},
{"data":{"name":"macd"},"mark":{"type":"line","color":"#2f7fc1","strokeWidth":0.9},"encoding":{"y":{"field":"v","type":"quantitative","scale":{"domain":[-537,565],"range":[641.7,602.7],"nice":false},"axis":{"orient":"right","offset":-606.5,"zindex":1,"values":[0,500],"format":".2f","labelPadding":5}}}},
{"data":{"name":"signal"},"mark":{"type":"line","color":"#c9651f","strokeWidth":0.9}}
]},
{"resolve":{"axis":{"x":"independent","y":"independent"}},
"encoding":{"y":{"field":"v","type":"quantitative","scale":{"domain":[-3.9,104.8],"range":[678,641.7],"nice":false},"axis":null}},
"layer":[
{"data":{"values":[{"t":"2019-07-26T10:20Z","v":80}]},"mark":{"type":"rect","color":"#33195f"},"encoding":{"x2":{"datum":1567135200000},"y2":{"datum":20}}},
{"data":{"values":[{"t":"2019-07-26T10:20Z","v":20},{"t":"2019-07-26T10:20Z","v":80}]},"mark":{"type":"rule","color":"#8f84a3","strokeWidth":0.8,"strokeDash":[4,3]},"encoding":{"x2":{"datum":1567135200000}}},
{"data":{"name":"stochK"},"mark":{"type":"line","color":"#2a72c4","strokeWidth":0.9},"encoding":{"y":{"field":"v","type":"quantitative","scale":{"domain":[-3.9,104.8],"range":[678,641.7],"nice":false},"axis":{"orient":"right","offset":-606.5,"zindex":1,"values":[0,100],"format":".2f","labelPadding":5}}}},
{"data":{"name":"stochD"},"mark":{"type":"line","color":"#c8563c","strokeWidth":0.9}}
]},
{"resolve":{"axis":{"x":"independent","y":"independent"}},
"encoding":{"y":{"field":"p","type":"quantitative","scale":{"domain":[6516,12530],"range":[693,226],"nice":false},"axis":null}},
"layer":[
{"data":{"values":[{"t":"2019-07-26T10:20Z","p":8396},{"t":"2019-07-26T10:20Z","p":7678},{"t":"2019-07-26T10:20Z","p":7176},{"t":"2019-07-26T10:20Z","p":6709}]},"mark":{"type":"rule","color":"#4a4e59","strokeWidth":1.3},"encoding":{"x2":{"datum":1567290840000}}},
{"data":{"values":[{"t":"2019-08-30T03:20Z","p":12530}]},"mark":{"type":"rule","color":"#4a4e59","strokeWidth":1},"encoding":{"y2":{"datum":6516}}},
{"data":{"values":[{"t":"2019-07-26T10:20Z","p":10697.9}]},"mark":{"type":"rule","color":"#c9656b","strokeWidth":0.8},"encoding":{"x2":{"datum":1567135200000}}},
{"data":{"name":"maBrown"},"mark":{"type":"line","color":"#9c5a34","strokeWidth":0.9}},
{"data":{"name":"maFlat"},"mark":{"type":"line","color":"#8f5a30","strokeWidth":1}},
{"data":{"name":"maGrey"},"mark":{"type":"line","color":"#8c8f96","strokeWidth":0.9}},
{"data":{"name":"maTeal"},"mark":{"type":"line","color":"#3f6b66","strokeWidth":0.9}},
{"data":{"name":"maRed"},"mark":{"type":"line","color":"#6e2b2e","strokeWidth":0.9}},
{"data":{"name":"candles"},"mark":{"type":"rule","strokeWidth":0.9},"encoding":{"x":{"field":"t","type":"temporal","scale":{"type":"utc","domain":[1564136400000,1567290840000],"range":[68,831],"padding":0},"axis":{"orient":"bottom","offset":-110,"zindex":1,"values":[1564358400000,1564617600000,1564963200000,1565222400000,1565568000000,1565827200000,1566172800000,1566432000000,1566777600000,1567036800000],"labelExpr":"utcmonth(datum.value)==7&&utcdate(datum.value)==1?'Aug':''+utcdate(datum.value)","labelPadding":5,"labelAlign":"center"}},"y":{"field":"h","type":"quantitative","scale":{"domain":[6516,12530],"range":[693,226],"nice":false},"axis":{"orient":"right","offset":-606.5,"zindex":1,"values":[8500,8750,9000,9250,9500,9750,10000,10250,11000,11250,11500,11750,12000,12250,12500],"format":".2f","labelPadding":5}},"y2":{"field":"l"},"color":{"condition":{"test":"datum.c>=datum.o","value":"#2f9a90"},"value":"#d9595a"}}},
{"data":{"name":"candles"},"mark":{"type":"bar","size":3},"encoding":{"y":{"field":"o","type":"quantitative","scale":{"domain":[6516,12530],"range":[693,226],"nice":false},"axis":null},"y2":{"field":"c"},"color":{"condition":{"test":"datum.c>=datum.o","value":"#2f9a90"},"value":"#d9595a"}}},
{"data":{"name":"maOrange"},"mark":{"type":"line","color":"#c9a23a","strokeWidth":1}},
{"data":{"name":"descending"},"mark":{"type":"line","color":"#f2f2f2","strokeWidth":1.5}},
{"data":{"name":"support"},"mark":{"type":"line","color":"#f2f2f2","strokeWidth":1.5}},
{"data":{"values":[{"t":"2019-08-13T02:00Z","p":11181}]},"mark":{"type":"point","shape":"M-1 0 A1 0.35 0 1 1 1 0 A1 0.35 0 1 1 -1 0 Z","filled":false,"size":529,"stroke":"#27c93f","strokeWidth":1.3,"opacity":1}},
{"data":{"values":[{"t":"2019-08-14T11:20Z","p":11937}]},"mark":{"type":"rect","color":"#131722"},"encoding":{"x2":{"datum":1566513000000},"y2":{"datum":11499}}},
{"data":{"name":"wedgeUpper"},"mark":{"type":"line","color":"#e9e23a","strokeWidth":1.6}},
{"data":{"name":"wedgeLower"},"mark":{"type":"line","color":"#e9e23a","strokeWidth":1.6}},
{"data":{"values":[{"t":"2019-08-15T11:30Z","p":11692}]},"mark":{"type":"text","text":"Descending triangle","font":"DejaVu Sans","fontSize":13.5,"color":"#eef1f4","stroke":"#eef1f4","strokeWidth":0.35,"align":"left","baseline":"middle"}},
{"data":{"values":[{"t":"2019-08-19T02:40Z","p":9774}]},"mark":{"type":"text","text":"Rising wedge","font":"DejaVu Sans","fontSize":13.5,"color":"#f0c53c","stroke":"#f0c53c","strokeWidth":0.35,"align":"left","baseline":"middle"}},
{"data":{"values":[{"t":"2019-08-30T09:00Z","p":10750},{"t":"2019-08-30T09:00Z","p":10500}]},"mark":{"type":"text","font":"Liberation Sans","fontSize":6.5,"color":"#b2b5be","align":"left","baseline":"middle"},"encoding":{"text":{"field":"p","type":"quantitative","format":".2f"}}},
{"data":{"values":[{"t":"2019-08-30T03:20Z","p":10759}]},"mark":{"type":"rect","color":"#e8585a"},"encoding":{"x2":{"datum":1567290840000},"y2":{"datum":10649}}},
{"data":{"values":[{"t":"2019-08-30T07:30Z","p":10624}]},"mark":{"type":"rect","color":"#e8585a"},"encoding":{"x2":{"datum":1567290840000},"y2":{"datum":10495}}},
{"data":{"values":[{"t":"2019-08-30T10:00Z","p":10707}]},"mark":{"type":"text","text":"10697.90","font":"Liberation Sans","fontSize":6.5,"color":"#ffffff","align":"left","baseline":"middle"}},
{"data":{"values":[{"t":"2019-08-30T10:00Z","p":10559}]},"mark":{"type":"text","text":"03:37:32","font":"Liberation Sans","fontSize":6.5,"color":"#ffffff","align":"left","baseline":"middle"}}
]}
]}
]
}
